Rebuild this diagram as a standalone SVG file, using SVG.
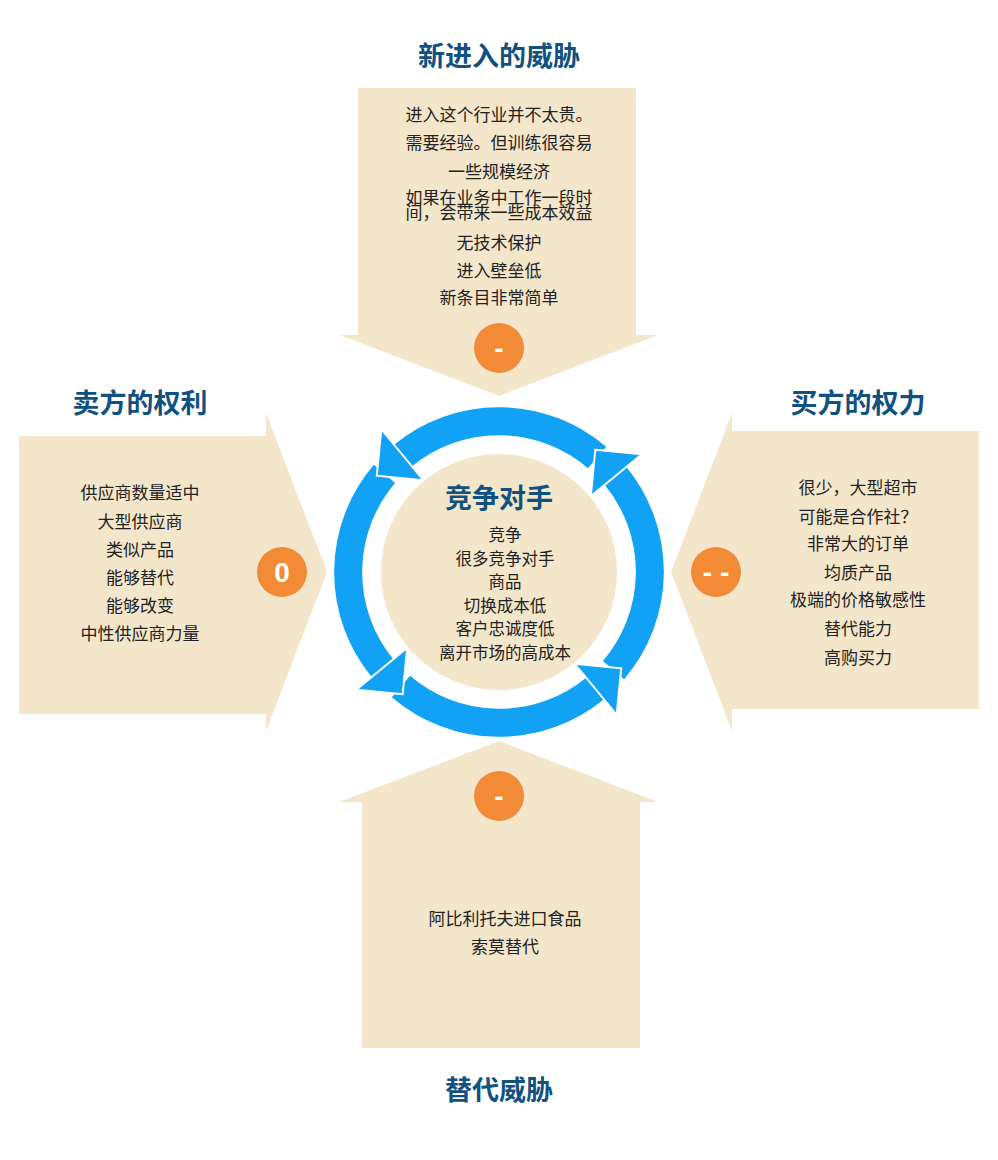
<svg xmlns="http://www.w3.org/2000/svg" xmlns:xlink="http://www.w3.org/1999/xlink" width="998" height="1160" viewBox="0 0 998 1160">
<style>
.shape{fill:#F4E6CB;}
.title{font-family:"Noto Sans CJK SC","Noto Sans",sans-serif;font-size:27px;font-weight:bold;fill:#11517F;text-anchor:middle;}
.body{font-family:"Noto Sans CJK SC","Noto Sans",sans-serif;font-size:17px;fill:#222;text-anchor:middle;}
.cbody{font-family:"Noto Sans CJK SC","Noto Sans",sans-serif;font-size:16.5px;fill:#222;text-anchor:middle;}
.badge{fill:#F38B36;}
.sign{font-family:"Liberation Sans","Noto Sans",sans-serif;font-size:28px;font-weight:bold;fill:#fff;text-anchor:middle;}
.arc{fill:none;stroke:#12A2F5;stroke-width:28;}
.head{fill:#12A2F5;stroke:#fff;stroke-width:2;stroke-linejoin:miter;}
</style>
<defs>
<path id="arcTop" class="arc" d="M 597.06 457.50 A 151 151 0 0 0 402.95 455.49"/>
<polygon id="headTR" class="head" points="595.3,449.8 641.8,454.3 590.8,496.3"/>
</defs>
<rect width="998" height="1160" fill="#fff"/>

<g id="node-top">
<path class="shape" d="M358,88 H636 V335 H658 L499,396 L340,335 H358 Z"/>
<text class="title" x="499" y="66">新进入的威胁</text>
<text class="body" x="499" y="121">进入这个行业并不太贵。</text>
<text class="body" x="499" y="149">需要经验。但训练很容易</text>
<text class="body" x="499" y="178">一些规模经济</text>
<text class="body" x="499" y="204">如果在业务中工作一段时</text>
<text class="body" x="499" y="219">间，会带来一些成本效益</text>
<text class="body" x="499" y="249">无技术保护</text>
<text class="body" x="499" y="277">进入壁垒低</text>
<text class="body" x="499" y="304">新条目非常简单</text>
<circle class="badge" cx="499" cy="348" r="25"/>
<text class="sign" x="499" y="358">-</text>
</g>

<g id="node-left">
<path class="shape" d="M19,436 H266 V413 L327,572 L266,731 V714 H19 Z"/>
<text class="title" x="140" y="413">卖方的权利</text>
<text class="body" x="140" y="499">供应商数量适中</text>
<text class="body" x="140" y="528">大型供应商</text>
<text class="body" x="140" y="556">类似产品</text>
<text class="body" x="140" y="584">能够替代</text>
<text class="body" x="140" y="612">能够改变</text>
<text class="body" x="140" y="640">中性供应商力量</text>
<circle class="badge" cx="282" cy="572" r="25"/>
<text class="sign" x="282" y="582">0</text>
</g>

<g id="node-right">
<path class="shape" d="M979,431 H732 V413 L671,572 L732,731 V709 H979 Z"/>
<text class="title" x="858" y="413">买方的权力</text>
<text class="body" x="858" y="494">很少，大型超市</text>
<text class="body" x="858" y="523">可能是合作社？</text>
<text class="body" x="858" y="550">非常大的订单</text>
<text class="body" x="858" y="579">均质产品</text>
<text class="body" x="858" y="606">极端的价格敏感性</text>
<text class="body" x="858" y="635">替代能力</text>
<text class="body" x="858" y="664">高购买力</text>
<circle class="badge" cx="716" cy="572" r="25"/>
<text class="sign" x="716" y="582">- -</text>
</g>

<g id="node-bottom">
<path class="shape" d="M362,1048 V802 H339 L499,741 L658,802 H640 V1048 Z"/>
<text class="title" x="499" y="1100">替代威胁</text>
<text class="body" x="505" y="925">阿比利托夫进口食品</text>
<text class="body" x="505" y="953">索莫替代</text>
<circle class="badge" cx="499" cy="796" r="25"/>
<text class="sign" x="499" y="806">-</text>
</g>

<g id="connectors">
<use xlink:href="#arcTop"/>
<use xlink:href="#arcTop" transform="rotate(-90 499 572)"/>
<use xlink:href="#arcTop" transform="rotate(-180 499 572)"/>
<use xlink:href="#arcTop" transform="rotate(-270 499 572)"/>
<use xlink:href="#headTR"/>
<use xlink:href="#headTR" transform="rotate(-90 499 572)"/>
<use xlink:href="#headTR" transform="rotate(-180 499 572)"/>
<use xlink:href="#headTR" transform="rotate(-270 499 572)"/>
</g>

<g id="node-center">
<circle class="shape" cx="499" cy="572" r="118"/>
<text class="title" x="499" y="508">竞争对手</text>
<text class="cbody" x="505" y="541">竞争</text>
<text class="cbody" x="505" y="564.5">很多竞争对手</text>
<text class="cbody" x="505" y="588">商品</text>
<text class="cbody" x="505" y="611.5">切换成本低</text>
<text class="cbody" x="505" y="635">客户忠诚度低</text>
<text class="cbody" x="505" y="658.5">离开市场的高成本</text>
</g>
</svg>
